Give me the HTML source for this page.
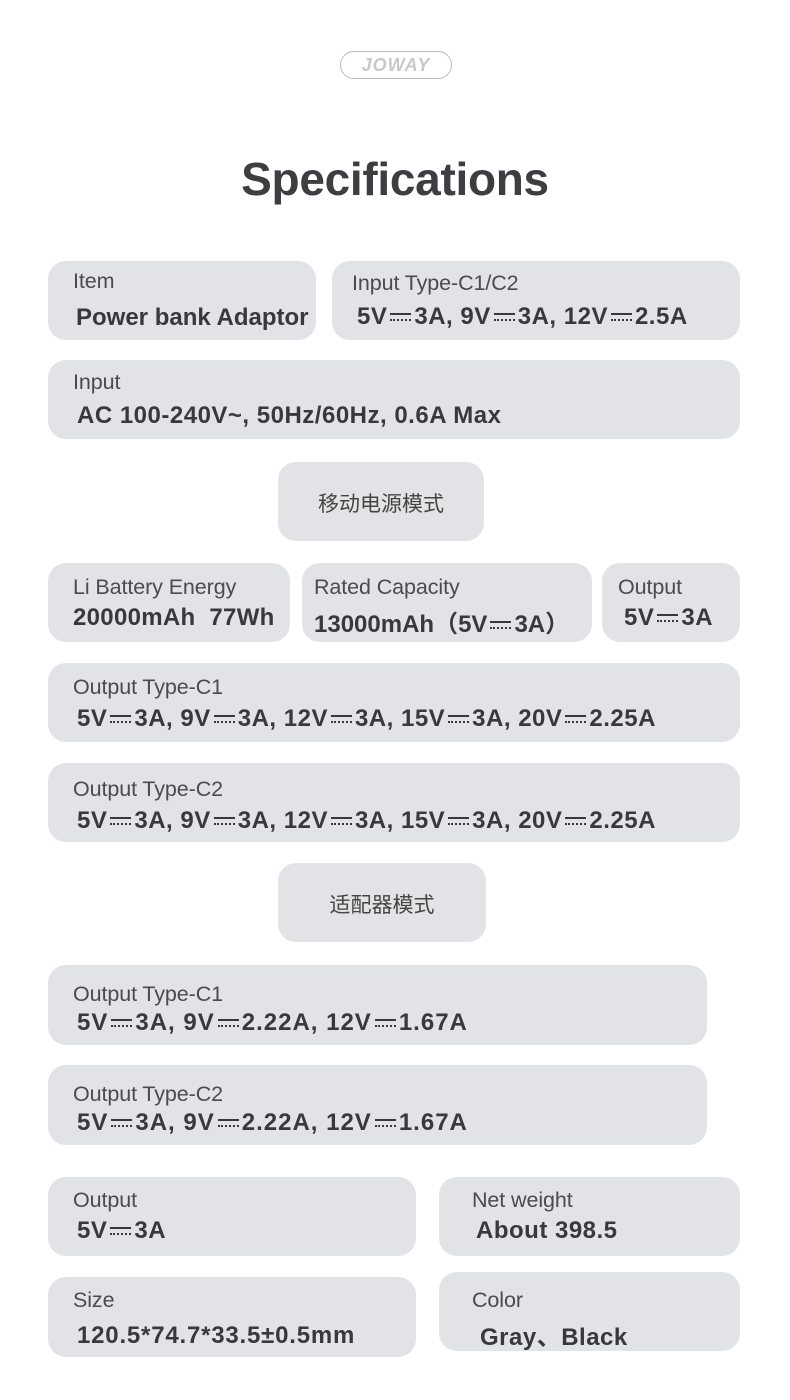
<!DOCTYPE html>
<html><head><meta charset="utf-8"><style>
body{margin:0;background:#fff;}
#p{position:relative;width:790px;height:1400px;overflow:hidden;font-family:"Liberation Sans","Noto Sans CJK SC",sans-serif;color:#3a3b3e;}
.b{position:absolute;background:#e1e3e6;border-radius:18px;}
.l{position:absolute;font-size:21.5px;color:#4a4b4e;white-space:nowrap;letter-spacing:-0.1px}
.v{position:absolute;font-size:24px;font-weight:bold;color:#38393c;white-space:nowrap;letter-spacing:0.5px}
.c{position:absolute;left:0;right:0;text-align:center;font-size:21px;color:#444;}
.dc{display:inline-block;width:21px;height:7px;border-top:2px solid #38393c;position:relative;vertical-align:middle;margin:0 3px;}
.dc:after{content:"";position:absolute;left:0;right:0;top:4px;border-top:2px dotted #38393c;}
</style></head><body><div id="p">
<div style="position:absolute;left:340px;top:51px;width:110px;height:26px;border:1.5px solid #bbb;border-radius:14px;text-align:center;font:italic bold 18px 'Liberation Sans',sans-serif;color:#c8c8c8;line-height:26px;letter-spacing:1px">JOWAY</div>
<div style="position:absolute;left:0;right:0;top:152px;text-align:center;font-size:46px;font-weight:bold;color:#3d3e41;letter-spacing:-0.3px">Specifications</div>

<div class="b" style="left:48px;top:261px;width:268px;height:79px"></div>
<div class="l" style="left:73px;top:269px">Item</div>
<div class="v" style="left:76px;top:304px;letter-spacing:0">Power bank Adaptor</div>
<div class="b" style="left:332px;top:261px;width:408px;height:79px"></div>
<div class="l" style="left:352px;top:271px">Input Type-C1/C2</div>
<div class="v" style="left:357px;top:303px">5V<span class="dc"></span>3A, 9V<span class="dc"></span>3A, 12V<span class="dc"></span>2.5A</div>

<div class="b" style="left:48px;top:360px;width:692px;height:79px"></div>
<div class="l" style="left:73px;top:370px">Input</div>
<div class="v" style="left:77px;top:402px">AC 100-240V~, 50Hz/60Hz, 0.6A Max</div>

<div class="b" style="left:278px;top:462px;width:206px;height:79px"></div>
<div class="c" style="left:278px;width:206px;top:488px">移动电源模式</div>

<div class="b" style="left:48px;top:563px;width:242px;height:79px"></div>
<div class="l" style="left:73px;top:575px">Li Battery Energy</div>
<div class="v" style="left:73px;top:604px;letter-spacing:0.3px">20000mAh&nbsp; 77Wh</div>
<div class="b" style="left:302px;top:563px;width:290px;height:79px"></div>
<div class="l" style="left:314px;top:575px">Rated Capacity</div>
<div class="v" style="left:314px;top:604px;letter-spacing:0">13000mAh（5V<span class="dc"></span>3A）</div>
<div class="b" style="left:602px;top:563px;width:138px;height:79px"></div>
<div class="l" style="left:618px;top:575px">Output</div>
<div class="v" style="left:624px;top:604px">5V<span class="dc"></span>3A</div>

<div class="b" style="left:48px;top:663px;width:692px;height:79px"></div>
<div class="l" style="left:73px;top:675px">Output Type-C1</div>
<div class="v" style="left:77px;top:705px">5V<span class="dc"></span>3A, 9V<span class="dc"></span>3A, 12V<span class="dc"></span>3A, 15V<span class="dc"></span>3A, 20V<span class="dc"></span>2.25A</div>
<div class="b" style="left:48px;top:763px;width:692px;height:79px"></div>
<div class="l" style="left:73px;top:777px">Output Type-C2</div>
<div class="v" style="left:77px;top:807px">5V<span class="dc"></span>3A, 9V<span class="dc"></span>3A, 12V<span class="dc"></span>3A, 15V<span class="dc"></span>3A, 20V<span class="dc"></span>2.25A</div>

<div class="b" style="left:278px;top:863px;width:208px;height:79px"></div>
<div class="c" style="left:278px;width:208px;top:889px">适配器模式</div>

<div class="b" style="left:48px;top:965px;width:659px;height:80px"></div>
<div class="l" style="left:73px;top:982px">Output Type-C1</div>
<div class="v" style="left:77px;top:1009px;letter-spacing:1px">5V<span class="dc"></span>3A, 9V<span class="dc"></span>2.22A, 12V<span class="dc"></span>1.67A</div>
<div class="b" style="left:48px;top:1065px;width:659px;height:80px"></div>
<div class="l" style="left:73px;top:1082px">Output Type-C2</div>
<div class="v" style="left:77px;top:1109px;letter-spacing:1px">5V<span class="dc"></span>3A, 9V<span class="dc"></span>2.22A, 12V<span class="dc"></span>1.67A</div>

<div class="b" style="left:48px;top:1177px;width:368px;height:79px"></div>
<div class="l" style="left:73px;top:1188px">Output</div>
<div class="v" style="left:77px;top:1217px">5V<span class="dc"></span>3A</div>
<div class="b" style="left:439px;top:1177px;width:301px;height:79px"></div>
<div class="l" style="left:472px;top:1188px">Net weight</div>
<div class="v" style="left:476px;top:1217px">About 398.5</div>

<div class="b" style="left:48px;top:1277px;width:368px;height:80px"></div>
<div class="l" style="left:73px;top:1288px">Size</div>
<div class="v" style="left:77px;top:1322px;letter-spacing:0.8px">120.5*74.7*33.5±0.5mm</div>
<div class="b" style="left:439px;top:1272px;width:301px;height:79px"></div>
<div class="l" style="left:472px;top:1288px">Color</div>
<div class="v" style="left:480px;top:1317px">Gray、Black</div>
</div></body></html>
